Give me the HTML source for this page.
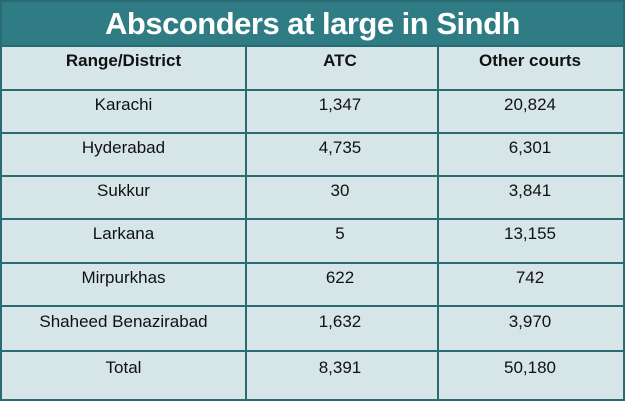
<!DOCTYPE html>
<html><head><style>
body{margin:0;width:625px;height:401px;background:#fff;font-family:"Liberation Sans",sans-serif;}
.wrap{position:absolute;left:0;top:0;width:621px;height:397px;border:2px solid #2a6a72;background:#d6e5e7;}
.title{position:absolute;left:0;top:0;width:621px;height:44px;background:#2f7c84;color:#fff;font-weight:bold;font-size:31px;text-align:center;line-height:44px;letter-spacing:-0.5px;}
.h{position:absolute;left:0;width:621px;height:2px;background:#2a6a72;}
.v{position:absolute;top:44px;width:2px;height:353px;background:#2a6a72;}
.c{position:absolute;text-align:center;font-size:17px;color:#111;}
.b{font-weight:bold;}
</style></head><body>
<div class="wrap">
<div class="title">Absconders at large in Sindh</div>
<div class="h" style="top:43px"></div>
<div class="h" style="top:87px"></div>
<div class="h" style="top:130px"></div>
<div class="h" style="top:173px"></div>
<div class="h" style="top:216px"></div>
<div class="h" style="top:260px"></div>
<div class="h" style="top:303px"></div>
<div class="h" style="top:348px"></div>
<div class="v" style="left:243px"></div>
<div class="v" style="left:435px"></div>
</div>
<div id="rows"></div>
<script>
var r=[["Range/District","ATC","Other courts",45,89,1],["Karachi","1,347","20,824",89,132],["Hyderabad","4,735","6,301",132,175],["Sukkur","30","3,841",175,218],["Larkana","5","13,155",218,262],["Mirpurkhas","622","742",262,305],["Shaheed Benazirabad","1,632","3,970",305,350],["Total","8,391","50,180",350,398]];
var h="";var cols=[[2,243],[245,190],[437,186]];
r.forEach(function(x){for(var i=0;i<3;i++){h+='<div class="c'+(x[5]?' b':'')+'" style="left:'+cols[i][0]+'px;width:'+cols[i][1]+'px;top:'+(x[3]+ (x[4]-x[3])/2 -23)+'px;line-height:34px">'+x[i]+'</div>';}});
document.getElementById("rows").innerHTML=h;
</script>
</body></html>
